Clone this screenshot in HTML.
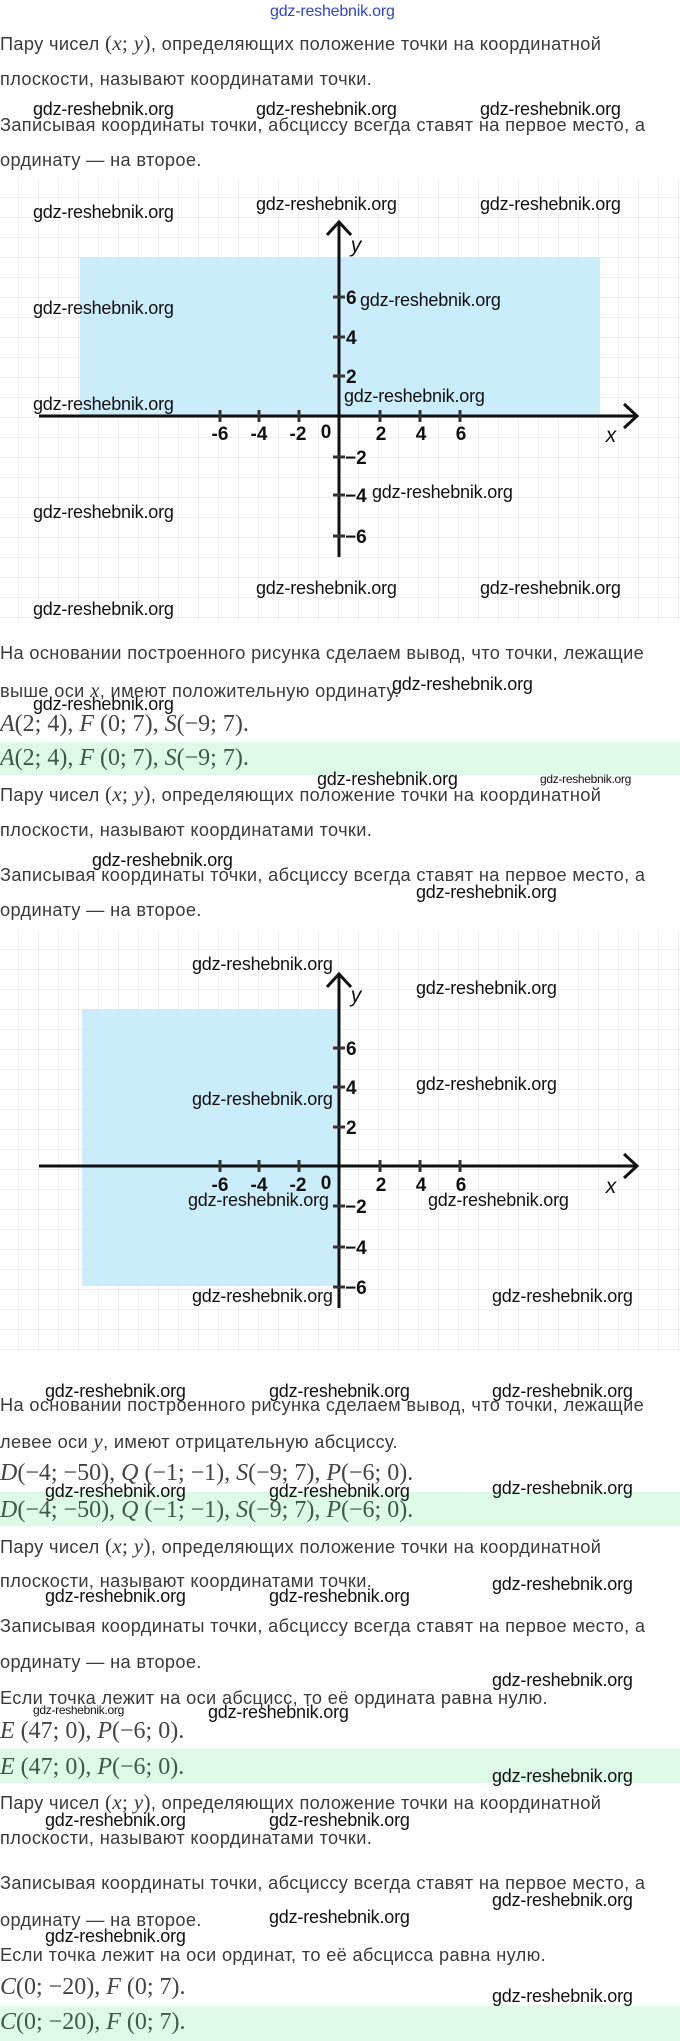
<!DOCTYPE html>
<html><head><meta charset="utf-8">
<style>
body{margin:0;background:#fff;}
#p{position:relative;width:680px;height:2041px;overflow:hidden;background:#fff;}
.t{position:absolute;left:0;height:24px;line-height:24px;font-family:"Liberation Sans",sans-serif;font-size:18.2px;letter-spacing:0.35px;color:#3a3a3a;white-space:nowrap;}
.m{position:absolute;left:0;height:28px;line-height:28px;font-family:"Liberation Serif",serif;font-size:24px;color:#444;white-space:nowrap;}
.m i{font-style:italic;}
.g{position:absolute;left:0;width:680px;background:#dcfae6;}
.w{position:absolute;height:20px;line-height:20px;font-family:"Liberation Sans",sans-serif;font-size:18px;color:#111;white-space:nowrap;letter-spacing:-0.2px;}
.ws{position:absolute;height:14px;line-height:14px;font-family:"Liberation Sans",sans-serif;font-size:12px;color:#111;white-space:nowrap;letter-spacing:-0.3px;}
svg{position:absolute;left:0;}
</style></head><body><div id="p">
<div class="w" style="left:270px;top:2px;color:#3344cc;font-size:16px">gdz-reshebnik.org</div>

<div class="t" style="top:31px">Пару чисел <span style="font-family:'Liberation Serif',serif;font-size:21px">(<i>x</i>; <i>y</i>)</span>, определяющих положение точки на координатной</div>
<div class="t" style="top:67px">плоскости, называют координатами точки.</div>
<div class="t" style="top:113px">Записывая координаты точки, абсциссу всегда ставят на первое место, а</div>
<div class="t" style="top:148px">ординату — на второе.</div>

<svg style="top:178px" width="680" height="442" viewBox="0 0 680 442">
<defs><pattern id="gr" width="20" height="20" patternUnits="userSpaceOnUse" x="-1" y="0"><path d="M20 0V20M0 20H20" stroke="#e3e3e3" stroke-width="1.2" fill="none"/></pattern></defs>
<rect width="680" height="442" fill="url(#gr)"/>
<rect x="80" y="79" width="520" height="159" fill="#c8ebfb" opacity="0.95"/>
<g stroke="#111" stroke-width="3" fill="none">
<line x1="39" y1="238" x2="636" y2="238"/><polyline points="624,226 637,238 624,250"/>
<line x1="339" y1="45" x2="339" y2="379"/><polyline points="327,57 339,44 351,57"/>
</g>
<g stroke="#333" stroke-width="3">
<line x1="220" y1="232" x2="220" y2="244"/><line x1="259" y1="232" x2="259" y2="244"/><line x1="299" y1="232" x2="299" y2="244"/>
<line x1="380" y1="232" x2="380" y2="244"/><line x1="420" y1="232" x2="420" y2="244"/><line x1="460" y1="232" x2="460" y2="244"/>
<line x1="333" y1="119" x2="345" y2="119"/><line x1="333" y1="159" x2="345" y2="159"/><line x1="333" y1="198" x2="345" y2="198"/>
<line x1="333" y1="279" x2="345" y2="279"/><line x1="333" y1="317" x2="345" y2="317"/><line x1="333" y1="358" x2="345" y2="358"/>
</g>
<g font-family="Liberation Sans,sans-serif" font-size="19" font-weight="bold" fill="#111" text-anchor="middle">
<text x="220" y="262">-6</text><text x="259" y="262">-4</text><text x="298" y="262">-2</text><text x="326" y="260">0</text>
<text x="381" y="262">2</text><text x="421" y="262">4</text><text x="461" y="262">6</text>
<text x="611" y="264" font-style="italic" font-weight="normal" font-size="21">x</text><text x="356" y="74" font-style="italic" font-weight="normal" font-size="21">y</text>
</g>
<g font-family="Liberation Sans,sans-serif" font-size="19" font-weight="bold" fill="#111">
<text x="346" y="126">6</text><text x="346" y="166">4</text><text x="346" y="205">2</text>
<text x="345" y="286">−2</text><text x="345" y="324">−4</text><text x="345" y="365">−6</text>
</g>
</svg>

<div class="w" style="left:33px;top:99px">gdz-reshebnik.org</div>
<div class="w" style="left:256px;top:99px">gdz-reshebnik.org</div>
<div class="w" style="left:480px;top:99px">gdz-reshebnik.org</div>
<div class="w" style="left:256px;top:194px">gdz-reshebnik.org</div>
<div class="w" style="left:480px;top:194px">gdz-reshebnik.org</div>
<div class="w" style="left:33px;top:202px">gdz-reshebnik.org</div>
<div class="w" style="left:360px;top:290px">gdz-reshebnik.org</div>
<div class="w" style="left:33px;top:298px">gdz-reshebnik.org</div>
<div class="w" style="left:344px;top:386px">gdz-reshebnik.org</div>
<div class="w" style="left:33px;top:394px">gdz-reshebnik.org</div>
<div class="w" style="left:372px;top:482px">gdz-reshebnik.org</div>
<div class="w" style="left:33px;top:502px">gdz-reshebnik.org</div>
<div class="w" style="left:256px;top:578px">gdz-reshebnik.org</div>
<div class="w" style="left:480px;top:578px">gdz-reshebnik.org</div>
<div class="w" style="left:33px;top:599px">gdz-reshebnik.org</div>

<div class="t" style="top:641px">На основании построенного рисунка сделаем вывод, что точки, лежащие</div>
<div class="t" style="top:678px">выше оси <span style="font-family:'Liberation Serif',serif;font-size:21px"><i>x</i></span>, имеют положительную ординату.</div>
<div class="w" style="left:392px;top:674px">gdz-reshebnik.org</div>
<div class="w" style="left:33px;top:694px">gdz-reshebnik.org</div>
<div class="m" style="top:710px"><i>A</i>(2; 4), <i>F</i> (0; 7), <i>S</i>(−9; 7).</div>
<div class="g" style="top:742px;height:33px"></div>
<div class="m" style="top:744px;color:#3d5a48"><i>A</i>(2; 4), <i>F</i> (0; 7), <i>S</i>(−9; 7).</div>
<div class="w" style="left:317px;top:769px">gdz-reshebnik.org</div>
<div class="ws" style="left:540px;top:772px">gdz-reshebnik.org</div>
<div class="t" style="top:782px">Пару чисел <span style="font-family:'Liberation Serif',serif;font-size:21px">(<i>x</i>; <i>y</i>)</span>, определяющих положение точки на координатной</div>
<div class="t" style="top:818px">плоскости, называют координатами точки.</div>
<div class="w" style="left:92px;top:850px">gdz-reshebnik.org</div>
<div class="t" style="top:863px">Записывая координаты точки, абсциссу всегда ставят на первое место, а</div>
<div class="w" style="left:416px;top:882px">gdz-reshebnik.org</div>
<div class="t" style="top:898px">ординату — на второе.</div>

<svg style="top:930px" width="680" height="420" viewBox="0 0 680 420">
<defs><pattern id="gr2" width="20" height="20" patternUnits="userSpaceOnUse" x="-1" y="0"><path d="M20 0V20M0 20H20" stroke="#e3e3e3" stroke-width="1.2" fill="none"/></pattern></defs>
<rect width="680" height="420" fill="url(#gr2)"/>
<rect x="82" y="79" width="257" height="277" fill="#c8ebfb" opacity="0.95"/>
<g stroke="#111" stroke-width="3" fill="none">
<line x1="39" y1="236" x2="636" y2="236"/><polyline points="624,224 637,236 624,248"/>
<line x1="339" y1="45" x2="339" y2="378"/><polyline points="327,57 339,44 351,57"/>
</g>
<g stroke="#333" stroke-width="3">
<line x1="220" y1="230" x2="220" y2="242"/><line x1="259" y1="230" x2="259" y2="242"/><line x1="299" y1="230" x2="299" y2="242"/>
<line x1="380" y1="230" x2="380" y2="242"/><line x1="420" y1="230" x2="420" y2="242"/><line x1="460" y1="230" x2="460" y2="242"/>
<line x1="333" y1="118" x2="345" y2="118"/><line x1="333" y1="157" x2="345" y2="157"/><line x1="333" y1="197" x2="345" y2="197"/>
<line x1="333" y1="276" x2="345" y2="276"/><line x1="333" y1="317" x2="345" y2="317"/><line x1="333" y1="357" x2="345" y2="357"/>
</g>
<g font-family="Liberation Sans,sans-serif" font-size="19" font-weight="bold" fill="#111" text-anchor="middle">
<text x="220" y="261">-6</text><text x="259" y="261">-4</text><text x="298" y="261">-2</text><text x="326" y="259">0</text>
<text x="381" y="261">2</text><text x="421" y="261">4</text><text x="461" y="261">6</text>
<text x="611" y="263" font-style="italic" font-weight="normal" font-size="21">x</text><text x="356" y="72" font-style="italic" font-weight="normal" font-size="21">y</text>
</g>
<g font-family="Liberation Sans,sans-serif" font-size="19" font-weight="bold" fill="#111">
<text x="346" y="125">6</text><text x="346" y="164">4</text><text x="346" y="204">2</text>
<text x="345" y="283">−2</text><text x="345" y="324">−4</text><text x="345" y="364">−6</text>
</g>
</svg>
<div class="w" style="left:192px;top:954px">gdz-reshebnik.org</div>
<div class="w" style="left:416px;top:978px">gdz-reshebnik.org</div>
<div class="w" style="left:416px;top:1074px">gdz-reshebnik.org</div>
<div class="w" style="left:192px;top:1089px">gdz-reshebnik.org</div>
<div class="w" style="left:188px;top:1190px">gdz-reshebnik.org</div>
<div class="w" style="left:428px;top:1190px">gdz-reshebnik.org</div>
<div class="w" style="left:192px;top:1286px">gdz-reshebnik.org</div>
<div class="w" style="left:492px;top:1286px">gdz-reshebnik.org</div>

<div class="w" style="left:45px;top:1381px">gdz-reshebnik.org</div>
<div class="w" style="left:269px;top:1381px">gdz-reshebnik.org</div>
<div class="w" style="left:492px;top:1381px">gdz-reshebnik.org</div>
<div class="t" style="top:1393px">На основании построенного рисунка сделаем вывод, что точки, лежащие</div>
<div class="t" style="top:1429px">левее оси <span style="font-family:'Liberation Serif',serif;font-size:21px"><i>y</i></span>, имеют отрицательную абсциссу.</div>
<div class="m" style="top:1459px"><i>D</i>(−4; −50), <i>Q</i> (−1; −1), <i>S</i>(−9; 7), <i>P</i>(−6; 0).</div>
<div class="g" style="top:1492px;height:34px"></div>
<div class="w" style="left:45px;top:1481px">gdz-reshebnik.org</div>
<div class="w" style="left:269px;top:1481px">gdz-reshebnik.org</div>
<div class="w" style="left:492px;top:1478px">gdz-reshebnik.org</div>
<div class="m" style="top:1496px;color:#3d5a48"><i>D</i>(−4; −50), <i>Q</i> (−1; −1), <i>S</i>(−9; 7), <i>P</i>(−6; 0).</div>
<div class="t" style="top:1534px">Пару чисел <span style="font-family:'Liberation Serif',serif;font-size:21px">(<i>x</i>; <i>y</i>)</span>, определяющих положение точки на координатной</div>
<div class="t" style="top:1569px">плоскости, называют координатами точки.</div>
<div class="w" style="left:492px;top:1574px">gdz-reshebnik.org</div>
<div class="w" style="left:45px;top:1586px">gdz-reshebnik.org</div>
<div class="w" style="left:269px;top:1586px">gdz-reshebnik.org</div>
<div class="t" style="top:1614px">Записывая координаты точки, абсциссу всегда ставят на первое место, а</div>
<div class="t" style="top:1650px">ординату — на второе.</div>
<div class="w" style="left:492px;top:1670px">gdz-reshebnik.org</div>
<div class="t" style="top:1686px">Если точка лежит на оси абсцисс, то её ордината равна нулю.</div>
<div class="ws" style="left:33px;top:1703px">gdz-reshebnik.org</div>
<div class="w" style="left:208px;top:1702px">gdz-reshebnik.org</div>
<div class="m" style="top:1717px"><i>E</i> (47; 0), <i>P</i>(−6; 0).</div>
<div class="g" style="top:1749px;height:34px"></div>
<div class="m" style="top:1753px;color:#3d5a48"><i>E</i> (47; 0), <i>P</i>(−6; 0).</div>
<div class="w" style="left:492px;top:1766px">gdz-reshebnik.org</div>
<div class="t" style="top:1790px">Пару чисел <span style="font-family:'Liberation Serif',serif;font-size:21px">(<i>x</i>; <i>y</i>)</span>, определяющих положение точки на координатной</div>
<div class="w" style="left:45px;top:1810px">gdz-reshebnik.org</div>
<div class="w" style="left:269px;top:1810px">gdz-reshebnik.org</div>
<div class="t" style="top:1826px">плоскости, называют координатами точки.</div>
<div class="t" style="top:1871px">Записывая координаты точки, абсциссу всегда ставят на первое место, а</div>
<div class="w" style="left:492px;top:1890px">gdz-reshebnik.org</div>
<div class="t" style="top:1908px">ординату — на второе.</div>
<div class="w" style="left:269px;top:1907px">gdz-reshebnik.org</div>
<div class="w" style="left:45px;top:1926px">gdz-reshebnik.org</div>
<div class="t" style="top:1943px">Если точка лежит на оси ординат, то её абсцисса равна нулю.</div>
<div class="m" style="top:1973px"><i>C</i>(0; −20), <i>F</i> (0; 7).</div>
<div class="w" style="left:492px;top:1986px">gdz-reshebnik.org</div>
<div class="g" style="top:2006px;height:35px"></div>
<div class="m" style="top:2008px;color:#3d5a48"><i>C</i>(0; −20), <i>F</i> (0; 7).</div>
</div></body></html>
